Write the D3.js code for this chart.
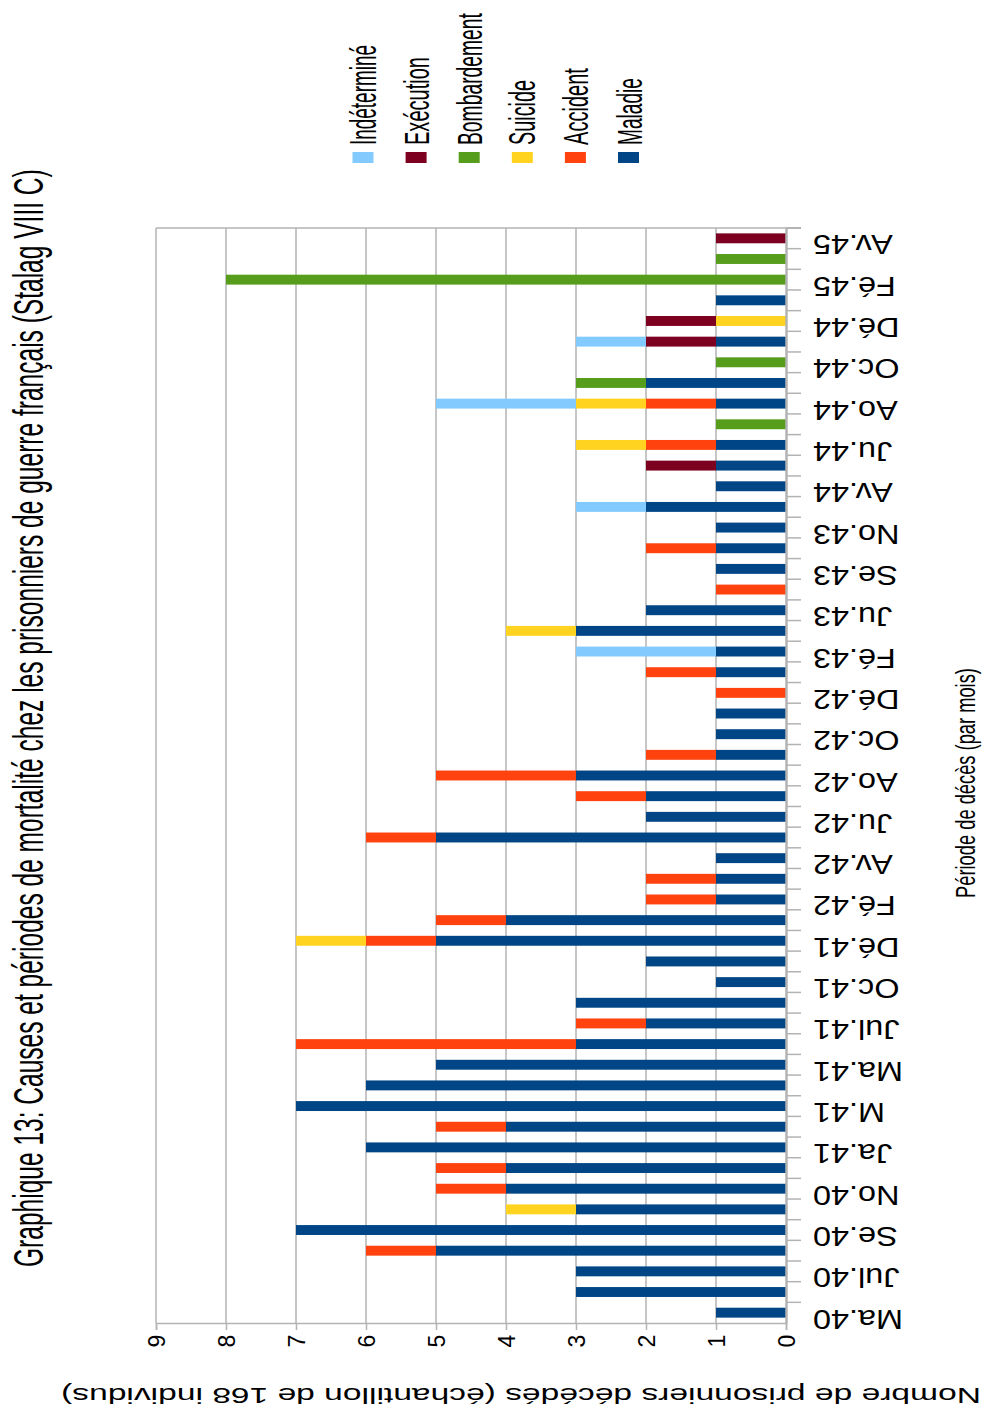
<!DOCTYPE html>
<html><head><meta charset="utf-8">
<script src="https://cdn.jsdelivr.net/npm/d3@7"></script>
<style>
html,body{margin:0;padding:0;background:#fff;}
svg{display:block;font-family:"Liberation Sans",Arial,sans-serif;}
</style></head>
<body>
<svg id="chart" width="984" height="1407"></svg>
<script>
// ---- Data ----
const categories = ["Ma.40","Jun.40","Jul.40","Aoû.40","Se.40","Oc.40","No.40","Dé.40","Ja.41","Fé.41",
 "M.41","Av.41","Ma.41","Jun.41","Jul.41","Ao.41","Oc.41","No.41","Dé.41","Ja.42",
 "Fé.42","M.42","Av.42","Ma.42","Ju.42","Jul.42","Ao.42","Se.42","Oc.42","No.42",
 "Dé.42","Ja.43","Fé.43","Av.43","Ju.43","Aoû.43","Se.43","Oc.43","No.43","Ja.44",
 "Av.44","Ma.44","Ju.44","Jul.44","Ao.44","Se.44","Oc.44","No.44","Dé.44","Ja.45",
 "Fé.45","M.45","Av.45"];
const maladie      = [1,3,3,5,7,3,4,4,6,4, 7,6,5,3,2,3,1,2,5,4, 1,1,1,5,2,2,3,1,1,1, 0,1,1,3,2,0,1,1,1,2, 1,1,1,0,1,2,0,1,0,1, 0,0,0];
const accident     = [0,0,0,1,0,0,1,1,0,1, 0,0,0,4,1,0,0,0,1,1, 1,1,0,1,0,1,2,1,0,0, 1,1,0,0,0,1,0,1,0,0, 0,0,1,0,1,0,0,0,0,0, 0,0,0];
const suicide      = [0,0,0,0,0,1,0,0,0,0, 0,0,0,0,0,0,0,0,1,0, 0,0,0,0,0,0,0,0,0,0, 0,0,0,1,0,0,0,0,0,0, 0,0,1,0,1,0,0,0,1,0, 0,0,0];
const bombardement = [0,0,0,0,0,0,0,0,0,0, 0,0,0,0,0,0,0,0,0,0, 0,0,0,0,0,0,0,0,0,0, 0,0,0,0,0,0,0,0,0,0, 0,0,0,1,0,1,1,0,0,0, 8,1,0];
const execution    = [0,0,0,0,0,0,0,0,0,0, 0,0,0,0,0,0,0,0,0,0, 0,0,0,0,0,0,0,0,0,0, 0,0,0,0,0,0,0,0,0,0, 0,1,0,0,0,0,0,1,1,0, 0,0,1];
const indetermine  = [0,0,0,0,0,0,0,0,0,0, 0,0,0,0,0,0,0,0,0,0, 0,0,0,0,0,0,0,0,0,0, 0,0,2,0,0,0,0,0,0,1, 0,0,0,0,2,0,0,1,0,0, 0,0,0];
const seriesNames  = ["Maladie","Accident","Suicide","Bombardement","Exécution","Indéterminé"];
const seriesColors = ["#004586","#ff420e","#ffd320","#579d1c","#7e0021","#83caff"];
const valueTicks   = [0,1,2,3,4,5,6,7,8,9];
const titleText = "Graphique 13: Causes et périodes de mortalité chez les prisonniers de guerre français (Stalag VIII C)";
const valueAxisTitle = "Nombre de prisonniers décédés (échantillon de 168 individus)";
const catAxisTitle = "Période de décès (par mois)";

const seriesValues = [maladie, accident, suicide, bombardement, execution, indetermine];
const rows = categories.map((c,i)=>{const r={cat:c}; seriesNames.forEach((s,j)=>r[s]=seriesValues[j][i]); return r;});

// ---- Layout ----
const svg = d3.select("#chart");
const plot = {left:156, right:786, top:228, bottom:1323};
const x = d3.scaleLinear().domain([0,9]).range([plot.right, plot.left]);
const y = d3.scaleBand().domain(categories).range([plot.bottom, plot.top]).paddingInner(0.52).paddingOuter(0.26);
const yb = d3.scaleBand().domain(categories).range([plot.bottom, plot.top]);
const grid = "#b3b3b3";

// helper: fit a text to a given length along its reading direction with a scale transform
function fitText(sel, tx, ty, rot, len){
  sel.each(function(){
    const w = this.getComputedTextLength();
    const k = len / w;
    d3.select(this).attr("transform",`translate(${tx},${ty}) rotate(${rot}) scale(${k},1)`);
  });
}

// gridlines
svg.append("g").selectAll("line").data(valueTicks.filter(v=>v>0)).join("line")
  .attr("x1",d=>x(d)).attr("x2",d=>x(d)).attr("y1",plot.top).attr("y2",plot.bottom)
  .attr("stroke",grid).attr("stroke-width",1.5);
// top frame line
svg.append("line").attr("x1",plot.left).attr("x2",plot.right+15).attr("y1",plot.top).attr("y2",plot.top)
  .attr("stroke",grid).attr("stroke-width",1.5);

// bars
const stack = d3.stack().keys(seriesNames)(rows);
svg.append("g").selectAll("g").data(stack).join("g")
  .attr("fill",(d,i)=>seriesColors[i])
  .selectAll("rect").data(d=>d.filter(p=>p[1]>p[0])).join("rect")
  .attr("x",d=>x(d[1])).attr("width",d=>x(d[0])-x(d[1]))
  .attr("y",d=>y(d.data.cat)).attr("height",y.bandwidth());

// value axis (bottom)
const xAxis = svg.append("g").attr("transform",`translate(0,${plot.bottom})`)
  .call(d3.axisBottom(x).tickValues(valueTicks).tickSize(7).tickPadding(0).tickFormat(d3.format("d")));
xAxis.select(".domain").attr("stroke",grid).attr("stroke-width",1.5);
xAxis.selectAll(".tick line").attr("stroke",grid).attr("stroke-width",1.5);
xAxis.selectAll(".tick text").attr("fill","#000").attr("font-size",23)
  .attr("y",0).attr("dy",0).attr("text-anchor","middle")
  .attr("transform","translate(8.5,18) rotate(-90)");

// category axis (right side)
const boundaries = categories.map(c=>yb(c)).concat([plot.top]);
svg.append("g").selectAll("line").data(boundaries).join("line")
  .attr("x1",plot.right).attr("x2",plot.right+15).attr("y1",d=>d).attr("y2",d=>d)
  .attr("stroke",grid).attr("stroke-width",1.5);
const yAxis = svg.append("g").attr("transform",`translate(${plot.right},0)`)
  .call(d3.axisRight(y).tickValues(categories.filter((c,i)=>i%2===0)).tickSize(0));
yAxis.select(".domain").attr("stroke",grid).attr("stroke-width",2.5);
yAxis.selectAll(".tick text").attr("fill","#000").attr("font-size",27)
  .attr("x",0).attr("dy",0).attr("text-anchor","end")
  .attr("transform","translate(27,-3) rotate(180) scale(1.2,1)");

// axis titles
svg.append("text").text(valueAxisTitle)
  .attr("font-size",22).attr("text-anchor","middle")
  .call(fitText, 521, 1388, 180, 920);
svg.append("text").text(catAxisTitle)
  .attr("font-size",28).attr("text-anchor","middle")
  .call(fitText, 975, 783, -90, 230);

// title
svg.append("text").text(titleText)
  .attr("font-size",43).attr("text-anchor","start")
  .call(fitText, 43, 1267, -90, 1098);

// legend (left to right: reversed series order)
const legendOrder = seriesNames.map((s,i)=>i).reverse();
const legendLen = {"Indéterminé":100,"Exécution":88,"Bombardement":132,"Suicide":65,"Accident":77,"Maladie":67};
const lg = svg.append("g").selectAll("g").data(legendOrder).join("g")
  .attr("transform",(d,k)=>`translate(${363+k*53.1},0)`);
lg.append("rect").attr("x",-10.5).attr("y",152).attr("width",21).attr("height",11)
  .attr("fill",d=>seriesColors[d]);
lg.append("text").text(d=>seriesNames[d])
  .attr("font-size",36).attr("text-anchor","start")
  .each(function(d){ d3.select(this).call(fitText, 13, 145, -90, legendLen[seriesNames[d]]); });
</script>
</body></html>
